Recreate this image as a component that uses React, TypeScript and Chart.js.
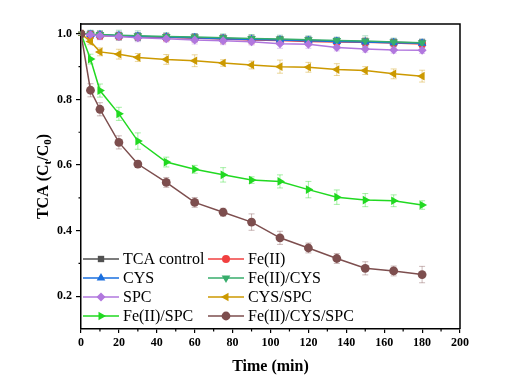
import React, { useEffect, useRef } from 'react';
import { Chart, registerables } from 'chart.js';

Chart.register(...registerables);

const FONT = "'Liberation Serif', 'Times New Roman', serif";

const times = [0, 5, 10, 20, 30, 45, 60, 75, 90, 105, 120, 135, 150, 165, 180];
const xTicks = [0, 20, 40, 60, 80, 100, 120, 140, 160, 180, 200];
const yTicks = [0.2, 0.4, 0.6, 0.8, 1.0];

const seriesNames = ['TCA control', 'Fe(II)', 'CYS', 'Fe(II)/CYS', 'SPC', 'CYS/SPC', 'Fe(II)/SPC', 'Fe(II)/CYS/SPC'];

const tcaControl = [1.0, 0.998, 0.996, 0.994, 0.992, 0.990, 0.988, 0.986, 0.984, 0.982, 0.980, 0.978, 0.976, 0.974, 0.972];
const feII = [1.0, 0.997, 0.995, 0.993, 0.991, 0.989, 0.987, 0.984, 0.981, 0.980, 0.977, 0.975, 0.974, 0.972, 0.969];
const cys = [1.0, 0.998, 0.997, 0.994, 0.992, 0.990, 0.988, 0.985, 0.983, 0.981, 0.979, 0.977, 0.975, 0.973, 0.971];
const feIICys = [1.0, 0.999, 0.998, 0.996, 0.994, 0.992, 0.990, 0.988, 0.986, 0.984, 0.982, 0.980, 0.978, 0.975, 0.973];
const spc = [1.0, 0.997, 0.994, 0.992, 0.988, 0.985, 0.981, 0.979, 0.976, 0.970, 0.968, 0.958, 0.954, 0.951, 0.950];
const cysSpc = [1.0, 0.977, 0.945, 0.938, 0.928, 0.922, 0.918, 0.911, 0.905, 0.900, 0.898, 0.891, 0.888, 0.878, 0.871];
const feIISpc = [1.0, 0.923, 0.827, 0.756, 0.673, 0.609, 0.587, 0.570, 0.554, 0.550, 0.525, 0.502, 0.493, 0.491, 0.478];
const feIICysSpc = [1.0, 0.828, 0.770, 0.669, 0.603, 0.547, 0.486, 0.456, 0.426, 0.378, 0.347, 0.315, 0.285, 0.277, 0.266];

const errTcaControl = [0.005, 0.012, 0.012, 0.010, 0.012, 0.010, 0.012, 0.010, 0.012, 0.010, 0.012, 0.010, 0.012, 0.010, 0.012];
const errFeII = [0.005, 0.010, 0.012, 0.012, 0.010, 0.012, 0.012, 0.014, 0.012, 0.012, 0.012, 0.010, 0.012, 0.012, 0.012];
const errCys = [0.005, 0.012, 0.010, 0.012, 0.012, 0.010, 0.012, 0.012, 0.010, 0.012, 0.012, 0.012, 0.010, 0.012, 0.012];
const errFeIICys = [0.005, 0.012, 0.012, 0.015, 0.015, 0.012, 0.010, 0.012, 0.012, 0.012, 0.012, 0.010, 0.016, 0.012, 0.010];
const errSpc = [0.005, 0.010, 0.012, 0.010, 0.012, 0.010, 0.012, 0.012, 0.010, 0.014, 0.012, 0.010, 0.010, 0.010, 0.010];
const errCysSpc = [0.005, 0.010, 0.012, 0.015, 0.012, 0.015, 0.018, 0.010, 0.012, 0.020, 0.015, 0.018, 0.012, 0.015, 0.018];
const errFeIISpc = [0.005, 0.015, 0.020, 0.020, 0.025, 0.015, 0.012, 0.022, 0.010, 0.020, 0.025, 0.022, 0.020, 0.018, 0.013];
const errFeIICysSpc = [0.005, 0.020, 0.020, 0.020, 0.010, 0.015, 0.015, 0.012, 0.025, 0.020, 0.015, 0.015, 0.020, 0.015, 0.025];

const seriesValues = [tcaControl, feII, cys, feIICys, spc, cysSpc, feIISpc, feIICysSpc];
const seriesErrors = [errTcaControl, errFeII, errCys, errFeIICys, errSpc, errCysSpc, errFeIISpc, errFeIICysSpc];
const colors = ['#515151', '#F14040', '#1A6FDF', '#37AD6B', '#B177DE', '#CC9900', '#21D921', '#7D4E4E'];
const markerStyles = ['rect', 'circle', 'triangle', 'triangle', 'rectRot', 'triangle', 'triangle', 'circle'];
const markerRotations = [0, 0, 0, 180, 0, -90, 90, 0];
const markerRadius = [4.5, 4, 5, 5, 4.5, 5, 5, 4.4];

function hexAlpha(hex: string, a: number) {
  const r = parseInt(hex.slice(1, 3), 16);
  const g = parseInt(hex.slice(3, 5), 16);
  const b = parseInt(hex.slice(5, 7), 16);
  return `rgba(${r},${g},${b},${a})`;
}

function drawMarker(ctx: CanvasRenderingContext2D, style: string, rotDeg: number, x: number, y: number, r: number) {
  const rad = (rotDeg * Math.PI) / 180;
  ctx.beginPath();
  if (style === 'circle') {
    ctx.arc(x, y, r, 0, Math.PI * 2);
  } else if (style === 'triangle') {
    for (let k = 0; k < 3; k++) {
      const a = rad + (k * 2 * Math.PI) / 3;
      const px = x + Math.sin(a) * r;
      const py = y - Math.cos(a) * r;
      if (k === 0) ctx.moveTo(px, py);
      else ctx.lineTo(px, py);
    }
  } else if (style === 'rect') {
    const s = r * Math.SQRT1_2;
    ctx.rect(x - s, y - s, 2 * s, 2 * s);
  } else if (style === 'rectRot') {
    ctx.moveTo(x, y - r);
    ctx.lineTo(x + r, y);
    ctx.lineTo(x, y + r);
    ctx.lineTo(x - r, y);
  }
  ctx.closePath();
  ctx.fill();
}

const decorPlugin = {
  id: 'decor',
  beforeDatasetsDraw(chart: any) {
    const ctx = chart.ctx as CanvasRenderingContext2D;
    const xs = chart.scales.x;
    const ys = chart.scales.y;
    ctx.save();
    for (let s = 0; s < seriesValues.length; s++) {
      ctx.strokeStyle = hexAlpha(colors[s], 0.4);
      ctx.lineWidth = 1;
      for (let i = 0; i < times.length; i++) {
        const e = seriesErrors[s][i];
        if (!e) continue;
        const px = xs.getPixelForValue(times[i]);
        const top = ys.getPixelForValue(seriesValues[s][i] + e);
        const bot = ys.getPixelForValue(seriesValues[s][i] - e);
        ctx.beginPath();
        ctx.moveTo(px, top);
        ctx.lineTo(px, bot);
        ctx.moveTo(px - 3, top);
        ctx.lineTo(px + 3, top);
        ctx.moveTo(px - 3, bot);
        ctx.lineTo(px + 3, bot);
        ctx.stroke();
      }
    }
    ctx.restore();
  },
  afterDraw(chart: any) {
    const ctx = chart.ctx as CanvasRenderingContext2D;
    const area = chart.chartArea;
    const xs = chart.scales.x;
    const ys = chart.scales.y;
    ctx.save();
    // frame top / right
    ctx.strokeStyle = '#000';
    ctx.lineWidth = 1.5;
    ctx.beginPath();
    ctx.moveTo(area.left, area.top);
    ctx.lineTo(area.right, area.top);
    ctx.lineTo(area.right, area.bottom);
    ctx.stroke();
    // minor ticks
    ctx.lineWidth = 1.2;
    ctx.beginPath();
    for (let i = 0; i < xTicks.length - 1; i++) {
      const v = (xTicks[i] + xTicks[i + 1]) / 2;
      const px = xs.getPixelForValue(v);
      ctx.moveTo(px, area.bottom);
      ctx.lineTo(px, area.bottom + 2.5);
    }
    for (let i = 0; i < yTicks.length - 1; i++) {
      const v = (yTicks[i] + yTicks[i + 1]) / 2;
      const py = ys.getPixelForValue(v);
      ctx.moveTo(area.left, py);
      ctx.lineTo(area.left - 2.5, py);
    }
    ctx.stroke();

    // x title
    ctx.fillStyle = '#000';
    ctx.font = `bold 16px ${FONT}`;
    ctx.textAlign = 'center';
    ctx.textBaseline = 'middle';
    ctx.fillText('Time (min)', (area.left + area.right) / 2, 367);

    // y title with subscripts
    const parts: [string, boolean][] = [['TCA (C', false], ['t', true], ['/C', false], ['0', true], [')', false]];
    const mainFont = `bold 16px ${FONT}`;
    const subFont = `bold 11px ${FONT}`;
    let total = 0;
    for (const [t, sub] of parts) {
      ctx.font = sub ? subFont : mainFont;
      total += ctx.measureText(t).width;
    }
    ctx.translate(42, (area.top + area.bottom) / 2);
    ctx.rotate(-Math.PI / 2);
    ctx.textAlign = 'left';
    ctx.textBaseline = 'alphabetic';
    let cx = -total / 2;
    for (const [t, sub] of parts) {
      ctx.font = sub ? subFont : mainFont;
      ctx.fillText(t, cx, sub ? 9 : 5.5);
      cx += ctx.measureText(t).width;
    }
    ctx.restore();

    // legend
    ctx.save();
    const rowY = [259, 278, 297, 316];
    const colX = [area.left + 2, area.left + 127];
    ctx.font = `16px ${FONT}`;
    ctx.textBaseline = 'middle';
    ctx.textAlign = 'left';
    for (let s = 0; s < seriesNames.length; s++) {
      const col = s % 2;
      const row = Math.floor(s / 2);
      const x0 = colX[col];
      const y0 = rowY[row];
      ctx.strokeStyle = colors[s];
      ctx.lineWidth = 1.5;
      ctx.beginPath();
      ctx.moveTo(x0, y0);
      ctx.lineTo(x0 + 36, y0);
      ctx.stroke();
      ctx.fillStyle = colors[s];
      drawMarker(ctx, markerStyles[s], markerRotations[s], x0 + 18, y0, markerRadius[s]);
      ctx.fillStyle = '#000';
      ctx.fillText(seriesNames[s], x0 + 40, y0 + 1);
    }
    ctx.restore();
  },
};

export default function App() {
  const ref = useRef<HTMLCanvasElement | null>(null);
  useEffect(() => {
    document.body.style.margin = '0';
    const canvas = ref.current;
    if (!canvas) return;
    const datasets = seriesNames.map((name, s) => ({
      label: name,
      data: times.map((t, i) => ({ x: t, y: seriesValues[s][i] })),
      borderColor: colors[s],
      backgroundColor: colors[s],
      borderWidth: 1.5,
      pointStyle: markerStyles[s],
      rotation: markerRotations[s],
      pointRadius: markerRadius[s],
      pointBorderWidth: 0,
      pointBackgroundColor: colors[s],
      pointBorderColor: colors[s],
      tension: 0,
      order: seriesNames.length - 1 - s,
    }));
    const tickFont = { family: FONT, size: 12, weight: 'bold' as const };
    const chart = new Chart(canvas, {
      type: 'line',
      data: { datasets },
      plugins: [decorPlugin],
      options: {
        animation: false,
        responsive: false,
        layout: { padding: { top: 24, right: 58, left: 0, bottom: 0 } },
        plugins: { legend: { display: false }, tooltip: { enabled: false } },
        scales: {
          x: {
            type: 'linear',
            min: 0,
            max: 200,
            afterBuildTicks: (axis: any) => {
              axis.ticks = xTicks.map((v) => ({ value: v }));
            },
            ticks: { color: '#000', font: tickFont, padding: 3, maxRotation: 0, autoSkip: false },
            grid: { drawOnChartArea: false, drawTicks: true, tickLength: 4, color: '#000', lineWidth: 1.2 },
            border: { display: true, color: '#000', width: 1.5 },
            afterFit: (s: any) => {
              s.height = 58;
            },
          },
          y: {
            type: 'linear',
            min: 0.1,
            max: 1.03,
            afterBuildTicks: (axis: any) => {
              axis.ticks = yTicks.map((v) => ({ value: v }));
            },
            ticks: {
              color: '#000',
              font: tickFont,
              padding: 4,
              autoSkip: false,
              callback: (v: any) => Number(v).toFixed(1),
            },
            grid: { drawOnChartArea: false, drawTicks: true, tickLength: 5, color: '#000', lineWidth: 1.2 },
            border: { display: true, color: '#000', width: 1.5 },
            afterFit: (s: any) => {
              s.width = 81;
            },
          },
        },
      },
    } as any);
    return () => chart.destroy();
  }, []);
  return (
    <div style={{ width: 518, height: 387, background: '#fff' }}>
      <canvas ref={ref} width={518} height={387} />
    </div>
  );
}
